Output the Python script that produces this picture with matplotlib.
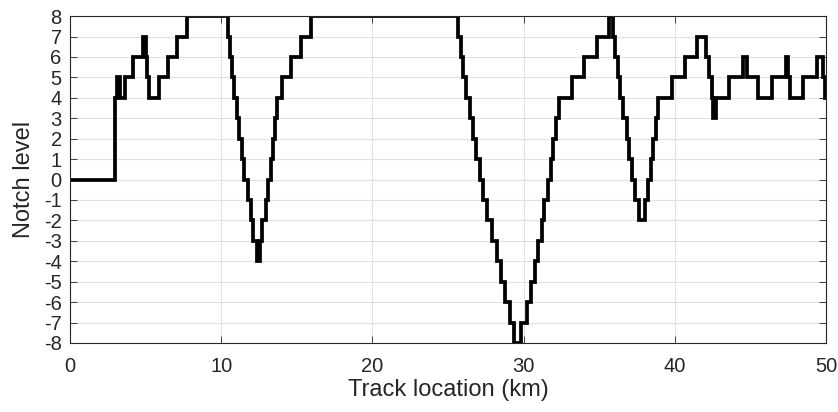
import matplotlib
matplotlib.use("Agg")
import matplotlib.pyplot as plt

# notch changes along the track: position (km) where each level starts
track_km = [0, 2.98, 3.13, 3.31, 3.64, 4.19, 4.85, 5.0, 5.11, 5.25, 5.89, 6.5, 7.1, 7.72,
            10.47, 10.58, 10.71, 10.85, 11.02, 11.2, 11.38, 11.53, 11.75, 11.95, 12.12,
            12.35, 12.57, 12.72, 12.96, 13.12, 13.27, 13.4, 13.56, 13.67, 14.05, 14.64,
            15.26, 15.96, 25.66, 25.84, 26.01, 26.19, 26.46, 26.68, 26.87, 27.09, 27.31,
            27.6, 27.93, 28.26, 28.5, 28.79, 29.1, 29.39, 29.83, 30.2, 30.49, 30.75, 30.97,
            31.19, 31.38, 31.62, 31.8, 31.97, 32.14, 32.34, 33.22, 34.0, 34.83, 35.65,
            35.89, 36.04, 36.22, 36.38, 36.6, 36.81, 36.99, 37.17, 37.37, 37.65, 38.03,
            38.25, 38.43, 38.58, 38.73, 38.91, 39.81, 40.7, 41.49, 42.04, 42.28, 42.44,
            42.55, 42.72, 43.61, 44.48, 44.79, 45.52, 46.41, 47.33, 47.49, 47.62, 48.5,
            49.42, 49.78, 49.95, 50]
notch = [0, 4, 5, 4, 5, 6, 7, 6, 5, 4, 5, 6, 7, 8,
         7, 6, 5, 4, 3, 2, 1, 0, -1, -2, -3,
         -4, -3, -2, -1, 0, 1, 2, 3, 4, 5, 6,
         7, 8, 7, 6, 5, 4, 3, 2, 1, 0, -1,
         -2, -3, -4, -5, -6, -7, -8, -7, -6, -5, -4, -3,
         -2, -1, 0, 1, 2, 3, 4, 5, 6, 7, 8,
         7, 6, 5, 4, 3, 2, 1, 0, -1, -2, -1,
         0, 1, 2, 3, 4, 5, 6, 7, 6, 5, 4,
         3, 4, 5, 6, 5, 4, 5, 6, 5, 4, 5,
         6, 5, 4, 4]

x_ticks = [0, 10, 20, 30, 40, 50]
y_ticks = list(range(-8, 9))

plt.rcParams["font.family"] = ["Liberation Sans", "DejaVu Sans"]
plt.rcParams["axes.unicode_minus"] = False
INK = "#262626"

fig = plt.figure(figsize=(8.38, 4.12), dpi=100)
ax = fig.add_axes([0.0835, 0.1675, 0.9022, 0.7935])

ax.step(track_km, notch, where="post", color="black", lw=2.7, solid_joinstyle="miter")

ax.set_xlim(0, 50)
ax.set_ylim(-8, 8)
ax.set_xticks(x_ticks)
ax.set_yticks(y_ticks)
ax.grid(True, color="#e2e2e2", lw=0.8)
ax.set_axisbelow(True)
ax.tick_params(direction="in", top=True, right=True, labelsize=14.5, colors=INK,
               length=5, width=0.6)
ax.tick_params(axis="x", pad=10)
ax.tick_params(axis="y", pad=6)
for s in ax.spines.values():
    s.set_color(INK)
    s.set_linewidth(0.8)

ax.set_xlabel("Track location (km)", fontsize=17, color=INK, labelpad=2)
ax.set_ylabel("Notch level", fontsize=17, color=INK, labelpad=6)

fig.savefig("out.png", dpi=100)
